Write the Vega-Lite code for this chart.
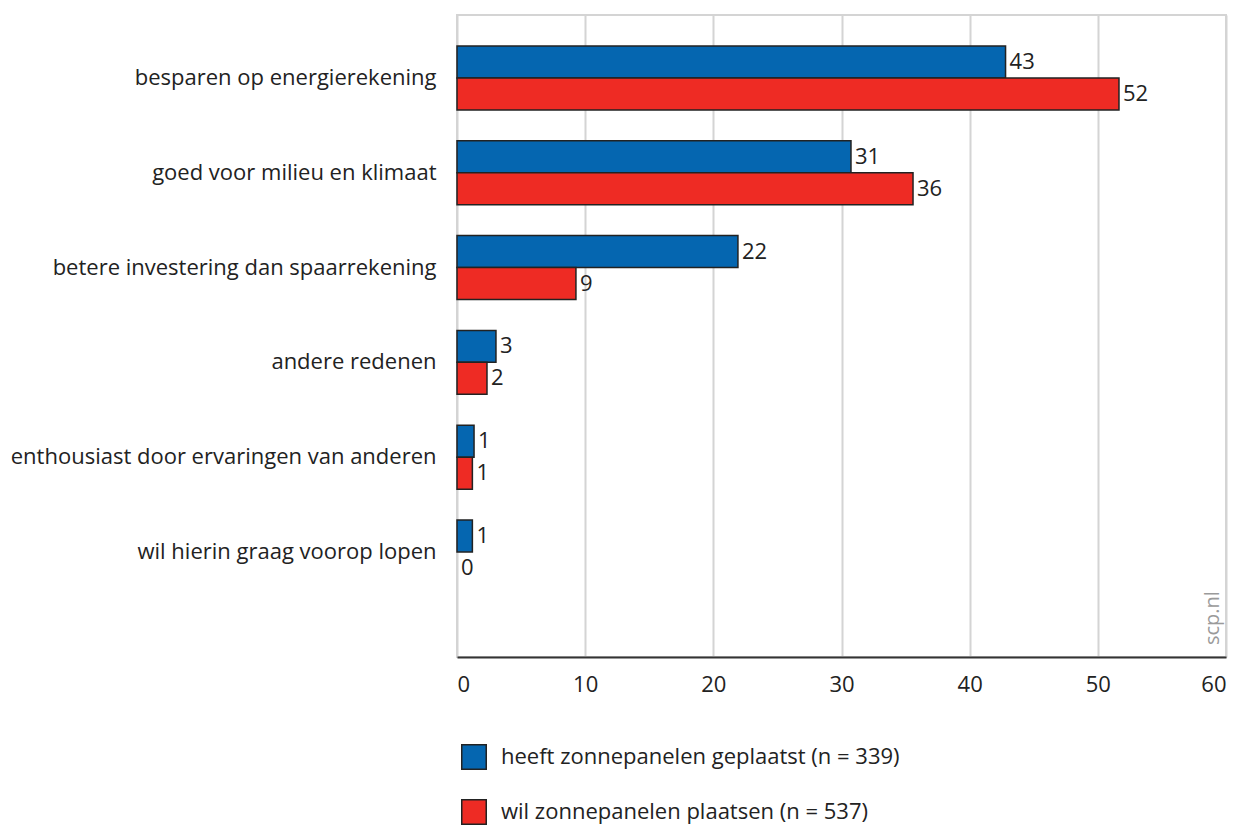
{
  "$schema": "https://vega.github.io/schema/vega-lite/v6.json",
  "width": 769,
  "height": 642,
  "autosize": {"type": "none"},
  "padding": {"left": 457, "top": 15, "right": 14, "bottom": 170},
  "background": "white",
  "config": {
    "font": "Open Sans",
    "view": {"stroke": "#d4d4d4", "strokeWidth": 2}
  },
  "datasets": {
    "main": [
      {"reden": "besparen op energierekening", "groep": "heeft zonnepanelen geplaatst (n = 339)", "waarde": 42.8},
      {"reden": "besparen op energierekening", "groep": "wil zonnepanelen plaatsen (n = 537)", "waarde": 51.65},
      {"reden": "goed voor milieu en klimaat", "groep": "heeft zonnepanelen geplaatst (n = 339)", "waarde": 30.74},
      {"reden": "goed voor milieu en klimaat", "groep": "wil zonnepanelen plaatsen (n = 537)", "waarde": 35.58},
      {"reden": "betere investering dan spaarrekening", "groep": "heeft zonnepanelen geplaatst (n = 339)", "waarde": 21.92},
      {"reden": "betere investering dan spaarrekening", "groep": "wil zonnepanelen plaatsen (n = 537)", "waarde": 9.28},
      {"reden": "andere redenen", "groep": "heeft zonnepanelen geplaatst (n = 339)", "waarde": 3.04},
      {"reden": "andere redenen", "groep": "wil zonnepanelen plaatsen (n = 537)", "waarde": 2.34},
      {"reden": "enthousiast door ervaringen van anderen", "groep": "heeft zonnepanelen geplaatst (n = 339)", "waarde": 1.33},
      {"reden": "enthousiast door ervaringen van anderen", "groep": "wil zonnepanelen plaatsen (n = 537)", "waarde": 1.2},
      {"reden": "wil hierin graag voorop lopen", "groep": "heeft zonnepanelen geplaatst (n = 339)", "waarde": 1.2},
      {"reden": "wil hierin graag voorop lopen", "groep": "wil zonnepanelen plaatsen (n = 537)", "waarde": 0}
    ],
    "mark": [{"t": "scp.nl"}]
  },
  "layer": [
    {
      "data": {"name": "main"},
      "mark": {"type": "bar", "stroke": "#222222", "strokeWidth": 1.5},
      "encoding": {
        "y": {
          "field": "reden", "type": "nominal", "sort": null,
          "scale": {"paddingInner": 0.325, "paddingOuter": 0.549, "align": 0.298},
          "axis": {"title": null, "ticks": false, "domain": false, "grid": false, "labelFontSize": 22, "labelColor": "#222222", "labelPadding": 21, "labelLimit": 500}
        },
        "yOffset": {"field": "groep", "type": "nominal", "sort": null, "scale": {"paddingInner": 0, "paddingOuter": 0}},
        "x": {
          "field": "waarde", "type": "quantitative",
          "scale": {"domain": [0, 60], "nice": false},
          "axis": {"title": null, "values": [0, 10, 20, 30, 40, 50, 60], "ticks": false, "grid": true, "gridColor": "#d4d4d4", "gridWidth": 2, "domainColor": "#333333", "domainWidth": 2, "labelFontSize": 22, "labelColor": "#222222", "labelPadding": 17}
        },
        "strokeOpacity": {"condition": {"test": "datum.waarde === 0", "value": 0}, "value": 1},
        "color": {
          "field": "groep", "type": "nominal", "sort": null,
          "scale": {"domain": ["heeft zonnepanelen geplaatst (n = 339)", "wil zonnepanelen plaatsen (n = 537)"], "range": ["#0566b0", "#ee2b24"]},
          "legend": {
            "title": null, "orient": "none", "legendX": 4, "legendY": 729, "direction": "vertical",
            "symbolType": "square", "symbolSize": 600, "symbolStrokeColor": "#222222", "symbolStrokeWidth": 1.5, "symbolOpacity": 1,
            "labelFontSize": 22, "labelColor": "#222222", "labelOffset": 14, "rowPadding": 23, "labelLimit": 600
          }
        }
      }
    },
    {
      "data": {"name": "main"},
      "mark": {"type": "text", "align": "left", "baseline": "middle", "dx": 4, "fontSize": 22, "color": "#222222"},
      "encoding": {
        "y": {"field": "reden", "type": "nominal", "sort": null},
        "yOffset": {"field": "groep", "type": "nominal", "sort": null},
        "x": {"field": "waarde", "type": "quantitative"},
        "text": {"field": "waarde", "type": "quantitative", "format": ".0f"}
      }
    },
    {
      "data": {"name": "mark"},
      "mark": {"type": "text", "angle": 270, "align": "left", "baseline": "bottom", "dx": 12, "dy": -3, "fontSize": 20, "color": "#9a9a9a"},
      "encoding": {
        "x": {"datum": 60, "type": "quantitative"},
        "y": {"value": "height"},
        "text": {"field": "t", "type": "nominal"}
      }
    }
  ]
}
